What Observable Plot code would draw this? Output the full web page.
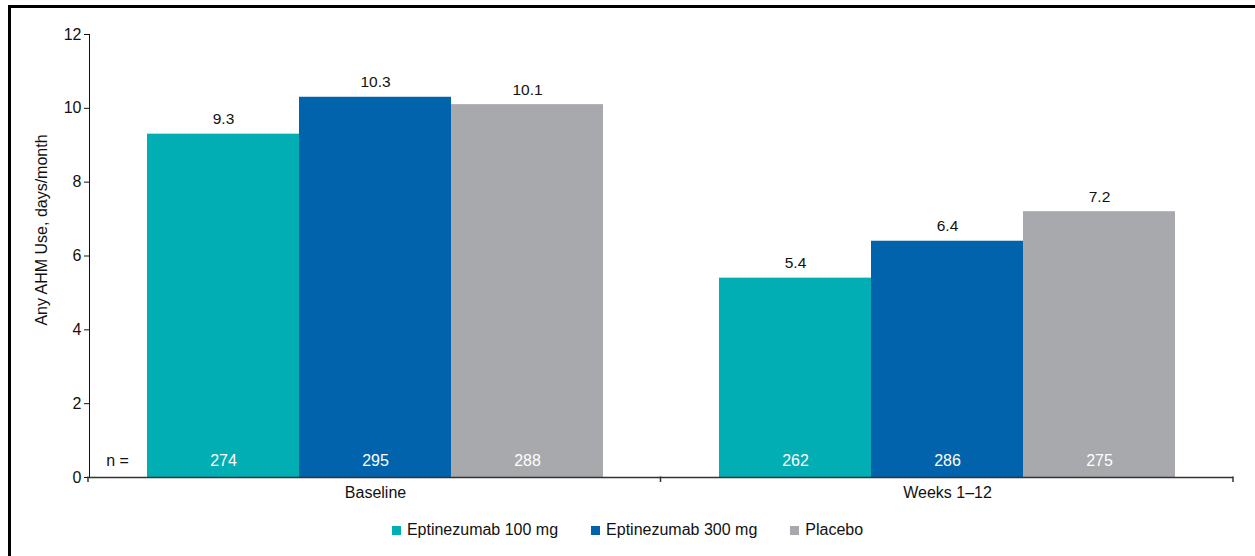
<!DOCTYPE html>
<html>
<head>
<meta charset="utf-8">
<script src="https://cdn.jsdelivr.net/npm/d3@7"></script>
<script src="https://cdn.jsdelivr.net/npm/@observablehq/plot@0.6"></script>
<style>
  html, body { margin: 0; padding: 0; background: #fff; }
  #wrap { position: relative; width: 1255px; height: 556px; overflow: hidden; font-family: "Liberation Sans", Arial, sans-serif; }
  #border { position: absolute; left: 8px; top: 5px; width: 1300px; height: 600px; border-left: 3px solid #000; border-top: 3px solid #000; box-sizing: border-box; pointer-events: none; }
  #chart { position: absolute; left: 0; top: 0; }
  #legend { position: absolute; left: 0; top: 521px; width: 1255px; display: flex; justify-content: center; align-items: center; font-size: 16px; color: #111; }
  .item { display: flex; align-items: center; margin: 0 16.5px; }
  .sw { width: 9px; height: 9px; margin-right: 6px; }
</style>
</head>
<body>
<div id="wrap">
  <div id="chart"></div>
  <div id="legend"></div>
  <div id="border"></div>
</div>
<script>
const groups = ["Baseline", "Weeks 1–12"];
const series = ["Eptinezumab 100 mg", "Eptinezumab 300 mg", "Placebo"];
const colors = ["#00AEB4", "#0063AB", "#A8A9AD"];
const baselineValues = [9.3, 10.3, 10.1];
const weeksValues = [5.4, 6.4, 7.2];
const baselineN = [274, 295, 288];
const weeksN = [262, 286, 275];
const yTicks = [0, 2, 4, 6, 8, 10, 12];
const yLabel = "Any AHM Use, days/month";

const data = [];
series.forEach((s, i) => data.push({group: groups[0], series: s, value: baselineValues[i], n: baselineN[i]}));
series.forEach((s, i) => data.push({group: groups[1], series: s, value: weeksValues[i], n: weeksN[i]}));

const plot = Plot.plot({
  width: 1255,
  height: 510,
  marginLeft: 88,
  marginRight: 22,
  marginTop: 34,
  marginBottom: 33,
  style: {fontFamily: "Liberation Sans, Arial, sans-serif", fontSize: "16px", color: "#111", background: "transparent"},
  fx: {domain: groups, padding: 0, axis: "bottom", tickSize: 0, tickPadding: 9, label: null},
  x: {domain: series, paddingInner: 0, paddingOuter: 0.375, axis: null},
  y: {domain: [0, 12], ticks: yTicks, tickSize: 5, tickPadding: 3, line: true, label: null},
  color: {domain: series, range: colors},
  marks: [
    Plot.barY(data, {fx: "group", x: "series", y: "value", fill: "series"}),
    Plot.ruleY([0], {stroke: "#333", strokeWidth: 1.5}),
    Plot.text(data, {fx: "group", x: "series", y: "value", text: d => d.value.toFixed(1), dy: -10, lineAnchor: "bottom", fontSize: 15.5, fill: "#111"}),
    Plot.text(data, {fx: "group", x: "series", text: d => String(d.n), frameAnchor: "bottom", dy: -17, lineAnchor: "middle", fontSize: 16, fill: "#fff"}),
    Plot.text([groups[0]], {fx: d => d, text: () => "n =", frameAnchor: "bottom-left", dx: 28, dy: -17, lineAnchor: "middle", textAnchor: "middle", fontSize: 16, fill: "#111"}),
    Plot.text([groups[0]], {fx: d => d, text: () => yLabel, frameAnchor: "left", dx: -48, dy: -26, rotate: -90, lineAnchor: "middle", textAnchor: "middle", fontSize: 16, fill: "#111"})
  ]
});
document.getElementById("chart").appendChild(plot);

// boundary ticks on the x axis, from the fx scale
const fxs = plot.scale("fx");
const band = d3.scaleBand().domain(fxs.domain).range(fxs.range).padding(0);
const ys = plot.scale("y");
const y0 = d3.scaleLinear().domain(ys.domain).range(ys.range)(0);
const edges = fxs.domain.map(g => band(g)).concat([band(fxs.domain[fxs.domain.length - 1]) + band.bandwidth()]);
d3.select(plot).append("g").attr("stroke", "#333").attr("stroke-width", 1.5)
  .selectAll("line").data(edges).join("line")
  .attr("x1", d => d).attr("x2", d => d).attr("y1", y0 - 0.5).attr("y2", y0 + 5);

// legend
const leg = d3.select("#legend");
series.forEach((s, i) => {
  const it = leg.append("div").attr("class", "item");
  it.append("div").attr("class", "sw").style("background", colors[i]);
  it.append("span").text(s);
});
</script>
</body>
</html>
